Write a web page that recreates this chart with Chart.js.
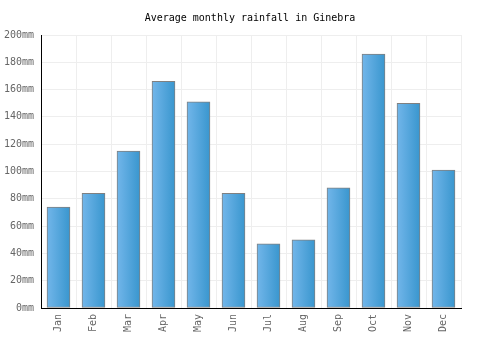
<!DOCTYPE html>
<html>
<head>
<meta charset="utf-8">
<script src="https://cdn.jsdelivr.net/npm/chart.js@4"></script>
<style>
  body { margin: 0; background: #fff; }
  #wrap { width: 500px; height: 350px; }
</style>
</head>
<body>
<div id="wrap"><canvas id="myChart" width="500" height="350"></canvas></div>
<script>
let meses = ['Jan', 'Feb', 'Mar', 'Apr', 'May', 'Jun', 'Jul', 'Aug', 'Sep', 'Oct', 'Nov', 'Dec'];
let lluvia = [74, 84, 115, 166, 151, 84, 47, 50, 88, 186, 150, 101];
let yTicks = [0, 20, 40, 60, 80, 100, 120, 140, 160, 180, 200];

const anchoBarra = 23;
const fuente = "'DejaVu Sans Mono', monospace";

function degradado(ctx) {
    const chart = ctx.chart;
    if (!chart.chartArea || !chart.scales.x) return '#55a5dd';
    const x = chart.scales.x.getPixelForValue(ctx.dataIndex);
    const g = chart.ctx.createLinearGradient(x - anchoBarra / 2, 0, x + anchoBarra / 2, 0);
    g.addColorStop(0, '#72b6ea');
    g.addColorStop(1, '#3996ce');
    return g;
}

let context = document.getElementById('myChart').getContext('2d');
let chart = new Chart(context, {
    type: 'bar',
    data: {
        labels: meses,
        datasets: [
            {
                label: 'mm',
                data: lluvia,
                backgroundColor: degradado,
                borderColor: '#808080',
                borderWidth: 1,
                borderSkipped: false,
                barThickness: anchoBarra
            }
        ]
    },
    options: {
        responsive: false,
        animation: false,
        layout: { padding: 0 },
        plugins: {
            legend: { display: false },
            tooltip: { enabled: false },
            title: {
                display: true,
                text: 'Average monthly rainfall in Ginebra',
                color: '#000',
                font: { family: fuente, size: 10, weight: 'normal' },
                padding: { top: 12, bottom: 11 }
            }
        },
        scales: {
            x: {
                grid: { color: '#eeeeee', drawTicks: false, offset: true },
                border: { color: '#000', width: 1 },
                ticks: {
                    color: '#666',
                    font: { family: fuente, size: 10 },
                    minRotation: 90,
                    maxRotation: 90,
                    padding: 6
                },
                afterFit: s => { s.height = 42; }
            },
            y: {
                min: 0,
                max: 200,
                afterBuildTicks: s => { s.ticks = yTicks.map(v => ({ value: v })); },
                grid: { color: '#eeeeee', drawTicks: false },
                border: { color: '#000', width: 1 },
                ticks: {
                    color: '#666',
                    font: { family: fuente, size: 10 },
                    padding: 7,
                    callback: v => v + 'mm'
                },
                afterFit: s => { s.width = 41; }
            },
            // hueco a la derecha, sin dibujar nada
            y2: {
                position: 'right',
                grid: { display: false },
                border: { display: false },
                ticks: { display: false },
                afterFit: s => { s.width = 39; }
            }
        }
    }
});
</script>
</body>
</html>
